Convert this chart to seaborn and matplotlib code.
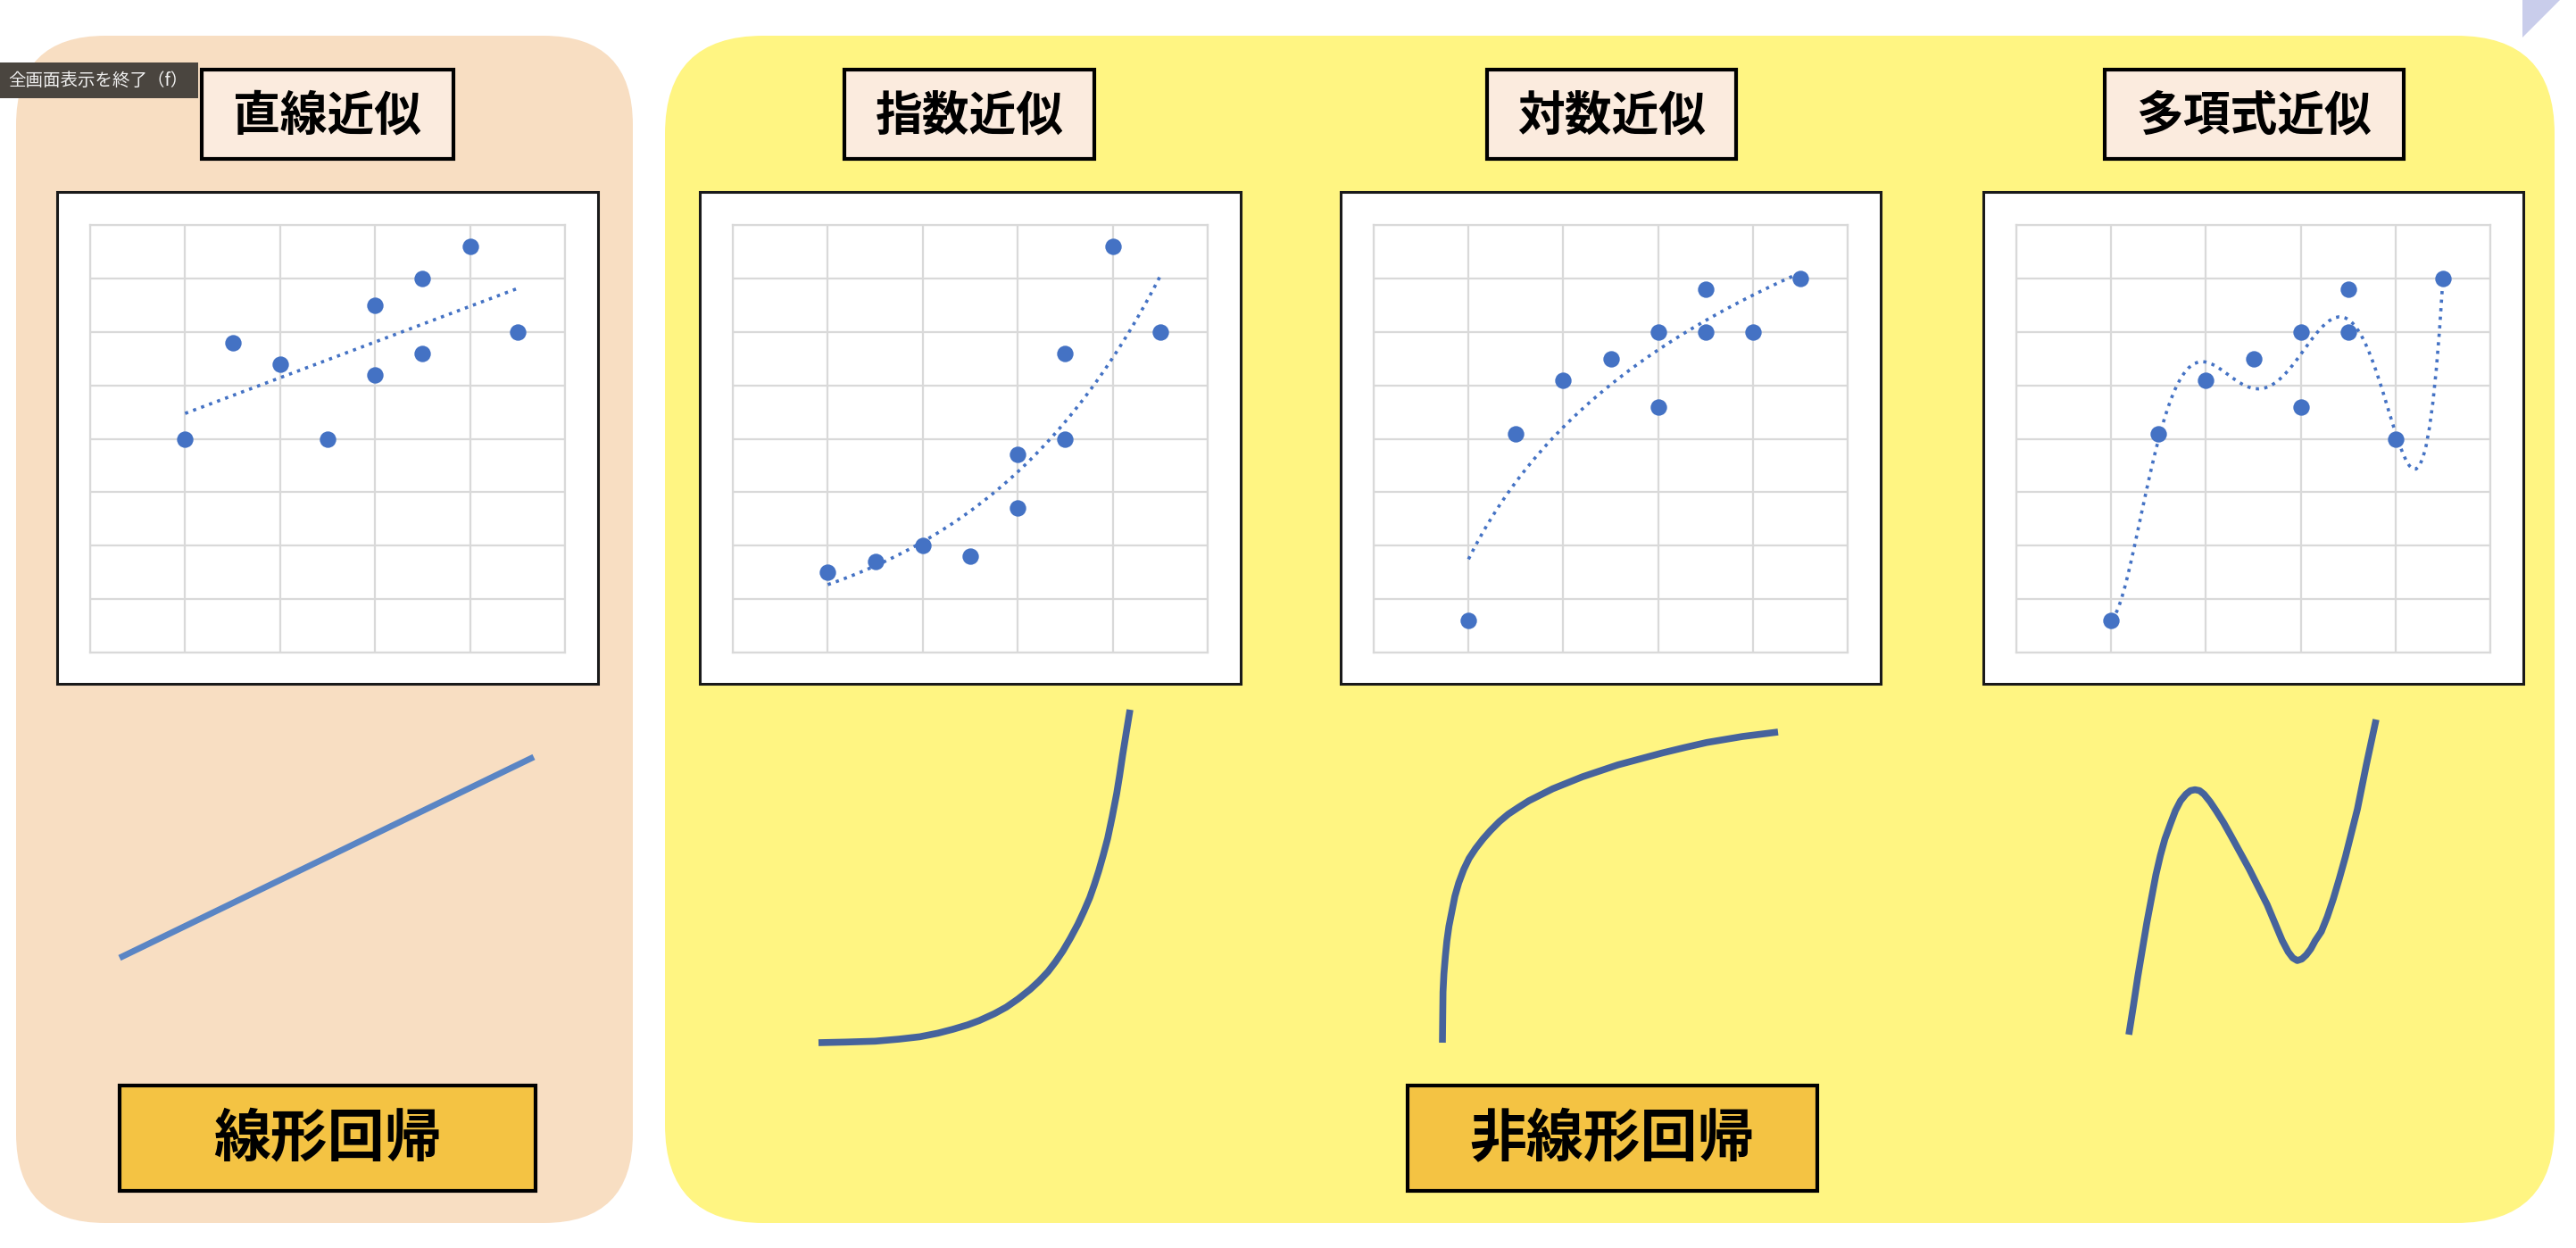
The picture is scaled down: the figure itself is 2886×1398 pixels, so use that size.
import numpy as np
import matplotlib
matplotlib.use("Agg")
import matplotlib.pyplot as plt
from matplotlib.patches import FancyBboxPatch, Rectangle, Polygon
import seaborn as sns

W, H = 2886, 1398

# --- data (grid units: x 0..5, y 0..8) ---
x_vals = [1.0, 1.5, 2.0, 2.5, 3.0, 3.0, 3.5, 3.5, 4.0, 4.5]
lin_y = [4.0, 5.8, 5.4, 4.0, 6.5, 5.2, 7.0, 5.6, 7.6, 6.0]
exp_y = [1.5, 1.7, 2.0, 1.8, 2.7, 3.7, 4.0, 5.6, 7.6, 6.0]
log_y = [0.6, 4.1, 5.1, 5.5, 6.0, 4.6, 6.8, 6.0, 6.0, 7.0]
poly_y = [0.6, 4.1, 5.1, 5.5, 6.0, 4.6, 6.8, 6.0, 4.0, 7.0]

titles = ["直線近似", "指数近似", "対数近似", "多項式近似"]
bottom_labels = ["線形回帰", "非線形回帰"]
tooltip = "全画面表示を終了（f）"

# schematic curves below the charts
# (picture units, y grows downward)
line_cx = [238, 1040]
line_cy = [745, 172]
exp_cx = [110, 200, 300, 380, 450, 510, 560, 610, 650, 700, 740, 780, 820, 850, 880,
          905, 930, 955, 980, 1000, 1020, 1035, 1050, 1065, 1080, 1095, 1110, 1120,
          1130, 1142, 1155]
exp_cy = [1170, 1168, 1165, 1158, 1150, 1138, 1125, 1110, 1095, 1072, 1050, 1022, 990,
          962, 930, 897, 860, 817, 770, 727, 680, 637, 590, 537, 480, 408, 330, 268,
          200, 125, 45]
log_cx = [108, 109, 110, 113, 118, 123, 130, 140, 150, 163, 180, 198, 220, 245, 270,
          300, 330, 365, 400, 440, 480, 530, 580, 640, 700, 775, 850, 925, 1000, 1120, 1240]
log_cy = [1170, 1080, 1000, 940, 880, 830, 780, 730, 680, 635, 590, 553, 520, 488, 460,
          430, 405, 382, 360, 340, 320, 300, 280, 260, 240, 220, 200, 182, 165, 145, 130]
poly_cx = [200, 215, 230, 245, 260, 275, 290, 305, 320, 338, 355, 372, 390, 405, 420,
           435, 450, 470, 490, 515, 540, 570, 600, 630, 660, 685, 710, 730, 745, 760,
           775, 790, 805, 820, 840, 860, 880, 900, 920, 940, 960, 975, 990, 1006, 1022]
poly_cy = [1135, 1040, 940, 850, 760, 680, 600, 535, 480, 430, 385, 352, 330, 318, 315,
           318, 330, 355, 385, 425, 470, 525, 580, 640, 700, 760, 820, 858, 878, 887,
           882, 868, 848, 820, 790, 740, 680, 612, 540, 460, 380, 305, 230, 155, 80]

sns.set_theme(style="white")
plt.rcParams['font.family'] = ['Noto Sans CJK JP', 'DejaVu Sans']

DOT = "#4472C4"
GRID = "#D9D9D9"

fig = plt.figure(figsize=(W / 100, H / 100), dpi=100)
fig.patch.set_facecolor("white")

bg = fig.add_axes([0, 0, 1, 1])
bg.set_xlim(0, W)
bg.set_ylim(H, 0)
bg.axis("off")


def frac(x0, y0, x1, y1):
    return [x0 / W, 1 - y1 / H, (x1 - x0) / W, (y1 - y0) / H]


# background panels
bg.add_patch(FancyBboxPatch((18, 40), 691, 1330, boxstyle="round,pad=0,rounding_size=100",
                            fc="#F8DEC2", ec="none"))
bg.add_patch(FancyBboxPatch((745, 40), 2117, 1330, boxstyle="round,pad=0,rounding_size=110",
                            fc="#FFF582", ec="none"))
bg.add_patch(Polygon([(2826, 0), (2868, 0), (2826, 42)], fc="#C9CDEB", ec="none"))

# tooltip at top left
bg.add_patch(Rectangle((0, 70), 222, 40, fc="#4A453F", ec="none"))
bg.text(110, 90, tooltip, color="#F0F0F0", fontsize=14, ha="center", va="center")

chart_x = [(64, 670), (784, 1390), (1502, 2107), (2222, 2827)]
title_x = [(226, 508), (946, 1226), (1666, 1945), (2358, 2693)]

for (tx0, tx1), t in zip(title_x, titles):
    bg.add_patch(Rectangle((tx0, 78), tx1 - tx0, 100, fc="#FBEBDE", ec="black", lw=3))
    bg.text((tx0 + tx1) / 2, 130, t, fontsize=38, fontweight="bold", color="black",
            ha="center", va="center")

fits = [("linear", lin_y), ("exp", exp_y), ("log", log_y), ("poly", poly_y)]
for (cx0, cx1), (kind, ys) in zip(chart_x, fits):
    bg.add_patch(Rectangle((cx0, 215), cx1 - cx0, 551, fc="white", ec="#1A1A1A", lw=2.2))
    ax = fig.add_axes(frac(cx0 + 37, 252, cx1 - 37, 731))
    sk = dict(s=175, color=DOT, alpha=1, linewidths=0, zorder=3)
    lk = dict(color=DOT, ls=":", lw=2.6)
    if kind == "linear":
        sns.regplot(x=x_vals, y=ys, ax=ax, ci=None, scatter_kws=sk, line_kws=lk)
    elif kind == "log":
        sns.regplot(x=x_vals, y=ys, ax=ax, ci=None, logx=True, scatter_kws=sk, line_kws=lk)
    elif kind == "poly":
        sns.regplot(x=x_vals, y=ys, ax=ax, ci=None, order=6, scatter_kws=sk, line_kws=lk)
    else:
        b, a = np.polyfit(x_vals, np.log(ys), 1)
        xs = np.linspace(min(x_vals), max(x_vals), 100)
        sns.scatterplot(x=x_vals, y=ys, ax=ax, **sk)
        sns.lineplot(x=xs, y=np.exp(a + b * xs), ax=ax, **lk)
    ax.set_xlim(0, 5)
    ax.set_ylim(0, 8)
    ax.set_xticks(range(6))
    ax.set_yticks(range(9))
    ax.set_xticklabels([])
    ax.set_yticklabels([])
    ax.tick_params(length=0)
    ax.grid(True, color=GRID, lw=1.6)
    ax.set_axisbelow(True)
    ax.set_xlabel("")
    ax.set_ylabel("")
    for sp in ax.spines.values():
        sp.set_color(GRID)
        sp.set_linewidth(1.6)

# schematic curves
curves = [
    ((134, 848, 598, 1073), line_cx, line_cy, "#5A85C4", 5.0),
    ((917, 795, 1266, 1168), exp_cx, exp_cy, "#46639C", 5.5),
    ((1616, 820, 1992, 1168), log_cx, log_cy, "#46639C", 5.5),
    ((2385, 806, 2662, 1159), poly_cx, poly_cy, "#46639C", 5.5),
]
for box, cxs, cys, col, lw in curves:
    ax = fig.add_axes(frac(*box))
    ax.patch.set_alpha(0)
    sns.lineplot(x=cxs, y=cys, ax=ax, sort=False, estimator=None, color=col, lw=lw)
    ax.set_xlim(min(cxs), max(cxs))
    ax.set_ylim(max(cys), min(cys))
    ax.axis("off")
    for ln in ax.lines:
        ln.set_clip_on(False)
        ln.set_solid_capstyle("butt")
        ln.set_solid_joinstyle("round")

# bottom labels
label_x = [(134, 600), (1577, 2036)]
for (lx0, lx1), t in zip(label_x, bottom_labels):
    bg.add_patch(Rectangle((lx0, 1216), lx1 - lx0, 118, fc="#F4C343", ec="black", lw=3))
    bg.text((lx0 + lx1) / 2, 1276, t, fontsize=46, fontweight="bold", color="black",
            ha="center", va="center")

fig.savefig("out.png", dpi=100, facecolor="white")
